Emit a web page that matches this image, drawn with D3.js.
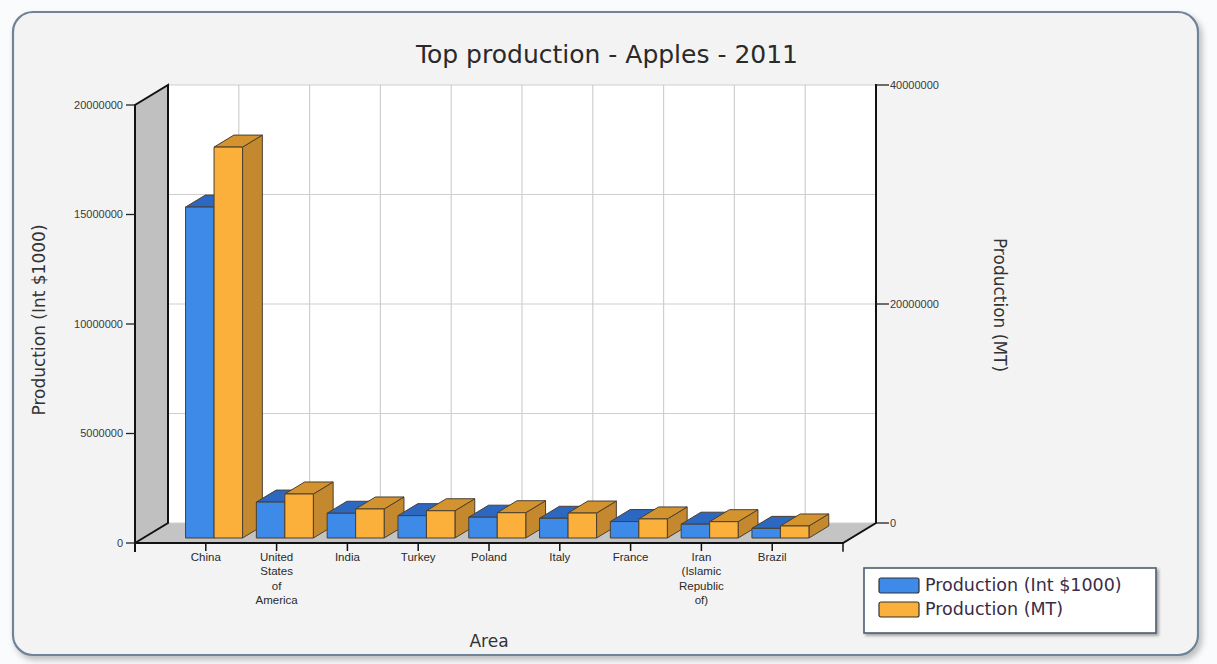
<!DOCTYPE html>
<html>
<head>
<meta charset="utf-8">
<script src="https://cdn.jsdelivr.net/npm/d3@7"></script>
<style>
  html, body { margin: 0; padding: 0; background: #f9fbfc; }
  svg { display: block; }
</style>
</head>
<body>
<svg id="chart" width="1217" height="664"></svg>
<script>
// Top apple producers, 2011
const categories = ["China", "United States of America", "India", "Turkey", "Poland",
                    "Italy", "France", "Iran (Islamic Republic of)", "Brazil"];
const productionInt = [15110000, 1640000, 1130000, 1020000, 950000, 900000, 750000, 630000, 440000];
const productionMT = [35700000, 4020000, 2650000, 2490000, 2310000, 2280000, 1740000, 1490000, 1100000];
const leftTicks = [0, 5000000, 10000000, 15000000, 20000000];
const rightTicks = [0, 20000000, 40000000];
const seriesNames = ["Production (Int $1000)", "Production (MT)"];

const svg = d3.select("#chart");
const W = 1217, H = 664;

// oblique 3D depth of the plot box
const DX = 33, DY = 20;
const depthX = f => f * DX;
const depthY = f => -f * DY;

const x0 = 135, x1 = 843, yBase = 543, yTop = 105;
const xPos = d3.scaleLinear().domain([0, categories.length + 1]).range([x0, x1]);
const yLeft = d3.scaleLinear().domain([0, 20000000]).range([yBase, yTop]);
const yRight = d3.scaleLinear().domain([0, 40000000]).range([yBase, yTop]);
const inner = d3.scaleBand().domain([0, 1]).range([-28.5, 28.5]);

const blue = { front: "#3d8ae9", top: "#2c68c2", side: "#285ca8" };
const orange = { front: "#fbb03c", top: "#d3932f", side: "#c4892e" };
const palettes = [blue, orange];

// defs: shadows
const defs = svg.append("defs");
const sh = defs.append("filter").attr("id", "panelShadow")
  .attr("x", "-5%").attr("y", "-5%").attr("width", "110%").attr("height", "110%");
sh.append("feDropShadow").attr("dx", 3).attr("dy", 4).attr("stdDeviation", 3)
  .attr("flood-color", "#000").attr("flood-opacity", 0.25);
const sh2 = defs.append("filter").attr("id", "legendShadow")
  .attr("x", "-10%").attr("y", "-20%").attr("width", "120%").attr("height", "140%");
sh2.append("feDropShadow").attr("dx", 2).attr("dy", 2).attr("stdDeviation", 1.5)
  .attr("flood-color", "#000").attr("flood-opacity", 0.35);

// outer panel
svg.append("rect")
  .attr("x", 13).attr("y", 12).attr("width", 1185).attr("height", 643)
  .attr("rx", 20).attr("ry", 20)
  .attr("fill", "#f3f3f3").attr("stroke", "#6f8397").attr("stroke-width", 2.2)
  .attr("filter", "url(#panelShadow)");

// title
svg.append("text")
  .attr("x", 607).attr("y", 63).attr("text-anchor", "middle")
  .attr("font-family", "DejaVu Sans, Verdana, sans-serif").attr("font-size", 25)
  .attr("fill", "#2a2a2a")
  .text("Top production - Apples - 2011");

const plot = svg.append("g");
const line = d3.line();

// back wall
plot.append("rect")
  .attr("x", x0 + DX).attr("y", yTop - DY)
  .attr("width", x1 - x0).attr("height", yBase - yTop)
  .attr("fill", "#ffffff");

// left wall
plot.append("path")
  .attr("d", line([[x0, yBase], [x0, yTop], [x0 + DX, yTop - DY], [x0 + DX, yBase - DY]]) + "Z")
  .attr("fill", "#c0c0c0");

// floor
plot.append("path")
  .attr("d", line([[x0, yBase], [x1, yBase], [x1 + DX, yBase - DY], [x0 + DX, yBase - DY]]) + "Z")
  .attr("fill", "#c4c4c4");

// horizontal gridlines on back wall
plot.selectAll(".hgrid").data(leftTicks).join("line")
  .attr("x1", x0 + DX).attr("x2", x1 + DX)
  .attr("y1", d => yLeft(d) - DY).attr("y2", d => yLeft(d) - DY)
  .attr("stroke", "#cfcfcf").attr("stroke-width", 1.2);

// vertical gridlines on back wall
plot.selectAll(".vgrid").data(categories).join("line")
  .attr("x1", (d, i) => xPos(i + 1) + DX).attr("x2", (d, i) => xPos(i + 1) + DX)
  .attr("y1", yTop - DY).attr("y2", yBase - DY)
  .attr("stroke", "#cfcfcf").attr("stroke-width", 1.2);

// bars (front plane at depth 0.25, back at 0.85)
const fA = 0.25, fB = 0.85;
const barStroke = "#4a3f30";
categories.forEach((c, i) => {
  [productionInt[i], productionMT[i]].forEach((v, s) => {
    const scale = s === 0 ? yLeft : yRight;
    const pal = palettes[s];
    const xl = xPos(i + 1) + inner(s) + depthX(fA);
    const xr = xl + inner.bandwidth();
    const yb = yBase + depthY(fA);
    const yt = scale(v) + depthY(fA);
    const ddx = depthX(fB - fA), ddy = depthY(fB - fA);
    const g = plot.append("g").attr("stroke", barStroke).attr("stroke-width", 1)
      .attr("stroke-linejoin", "round");
    g.append("path").attr("fill", pal.side)
      .attr("d", line([[xr, yb], [xr, yt], [xr + ddx, yt + ddy], [xr + ddx, yb + ddy]]) + "Z");
    g.append("path").attr("fill", pal.top)
      .attr("d", line([[xl, yt], [xr, yt], [xr + ddx, yt + ddy], [xl + ddx, yt + ddy]]) + "Z");
    g.append("rect").attr("fill", pal.front)
      .attr("x", xl).attr("y", yt).attr("width", xr - xl).attr("height", yb - yt);
  });
});

// frame lines
const frame = plot.append("g").attr("stroke", "#111").attr("fill", "none")
  .attr("stroke-linecap", "square");
frame.append("path").attr("stroke-width", 2)
  .attr("d", line([[x0, yBase + 8], [x0, yTop], [x0 + DX, yTop - DY], [x0 + DX, yBase - DY], [x0, yBase]]));
frame.append("path").attr("stroke-width", 2)
  .attr("d", line([[x0, yBase], [x1, yBase], [x1 + DX, yBase - DY], [x1 + DX, yTop - DY]]));
frame.append("line").attr("stroke-width", 1.5)
  .attr("x1", x1).attr("x2", x1).attr("y1", yBase).attr("y2", yBase + 8);

// left axis ticks and labels
const leftAxis = plot.append("g");
leftAxis.selectAll("line").data(leftTicks).join("line")
  .attr("x1", x0 - 9).attr("x2", x0).attr("y1", d => yLeft(d)).attr("y2", d => yLeft(d))
  .attr("stroke", "#222").attr("stroke-width", 1.3);
leftAxis.selectAll("text").data(leftTicks).join("text")
  .attr("x", x0 - 12).attr("y", d => yLeft(d)).attr("dy", "0.35em")
  .attr("text-anchor", "end")
  .attr("font-family", "Liberation Sans, Arial, sans-serif").attr("font-size", 11)
  .attr("fill", "#3a3a3a").text(d => d3.format("d")(d));

// right axis ticks and labels (on back plane)
const rightAxis = plot.append("g");
rightAxis.selectAll("line").data(rightTicks).join("line")
  .attr("x1", x1 + DX).attr("x2", x1 + DX + 13)
  .attr("y1", d => yRight(d) - DY).attr("y2", d => yRight(d) - DY)
  .attr("stroke", "#222").attr("stroke-width", 1.3);
rightAxis.selectAll("text").data(rightTicks).join("text")
  .attr("x", x1 + DX + 14).attr("y", d => yRight(d) - DY).attr("dy", "0.35em")
  .attr("font-family", "Liberation Sans, Arial, sans-serif").attr("font-size", 11)
  .attr("fill", "#3a3a3a").text(d => d3.format("d")(d));

// category ticks and labels
const catAxis = plot.append("g");
catAxis.selectAll("line").data(categories).join("line")
  .attr("x1", (d, i) => xPos(i + 1)).attr("x2", (d, i) => xPos(i + 1))
  .attr("y1", yBase).attr("y2", yBase + 8)
  .attr("stroke", "#111").attr("stroke-width", 1.5);
catAxis.selectAll("text").data(categories).join("text")
  .attr("x", (d, i) => xPos(i + 1)).attr("y", yBase + 18)
  .attr("text-anchor", "middle")
  .attr("font-family", "Liberation Sans, Arial, sans-serif").attr("font-size", 11.5)
  .attr("fill", "#2a2a2a")
  .each(function (d, i) {
    const t = d3.select(this);
    d.split(" ").forEach((w, k) => {
      t.append("tspan").attr("x", xPos(i + 1)).attr("dy", k === 0 ? 0 : 14.4).text(w);
    });
  });

// axis titles
const titleFont = "DejaVu Sans, Verdana, sans-serif";
svg.append("text")
  .attr("transform", "translate(45,320) rotate(-90)")
  .attr("text-anchor", "middle").attr("font-family", titleFont).attr("font-size", 17)
  .attr("fill", "#333").text(seriesNames[0]);
svg.append("text")
  .attr("transform", "translate(994,305) rotate(90)")
  .attr("text-anchor", "middle").attr("font-family", titleFont).attr("font-size", 17)
  .attr("fill", "#333").text(seriesNames[1]);
svg.append("text")
  .attr("x", 489).attr("y", 647).attr("text-anchor", "middle")
  .attr("font-family", titleFont).attr("font-size", 17)
  .attr("fill", "#333").text("Area");

// legend
const legend = svg.append("g").attr("transform", "translate(864,568)");
legend.append("rect").attr("width", 292).attr("height", 65)
  .attr("fill", "#ffffff").attr("stroke", "#4c5d73").attr("stroke-width", 1.6)
  .attr("filter", "url(#legendShadow)");
const items = legend.selectAll("g.item").data(seriesNames).join("g")
  .attr("transform", (d, i) => `translate(15,${10 + i * 24})`);
items.append("rect").attr("width", 40).attr("height", 15).attr("rx", 2)
  .attr("fill", (d, i) => palettes[i].front).attr("stroke", "#333").attr("stroke-width", 1.2);
items.append("text").attr("x", 46).attr("y", 13)
  .attr("font-family", titleFont).attr("font-size", 17.5)
  .attr("fill", "#3a2c48").text(d => d);
</script>
</body>
</html>
